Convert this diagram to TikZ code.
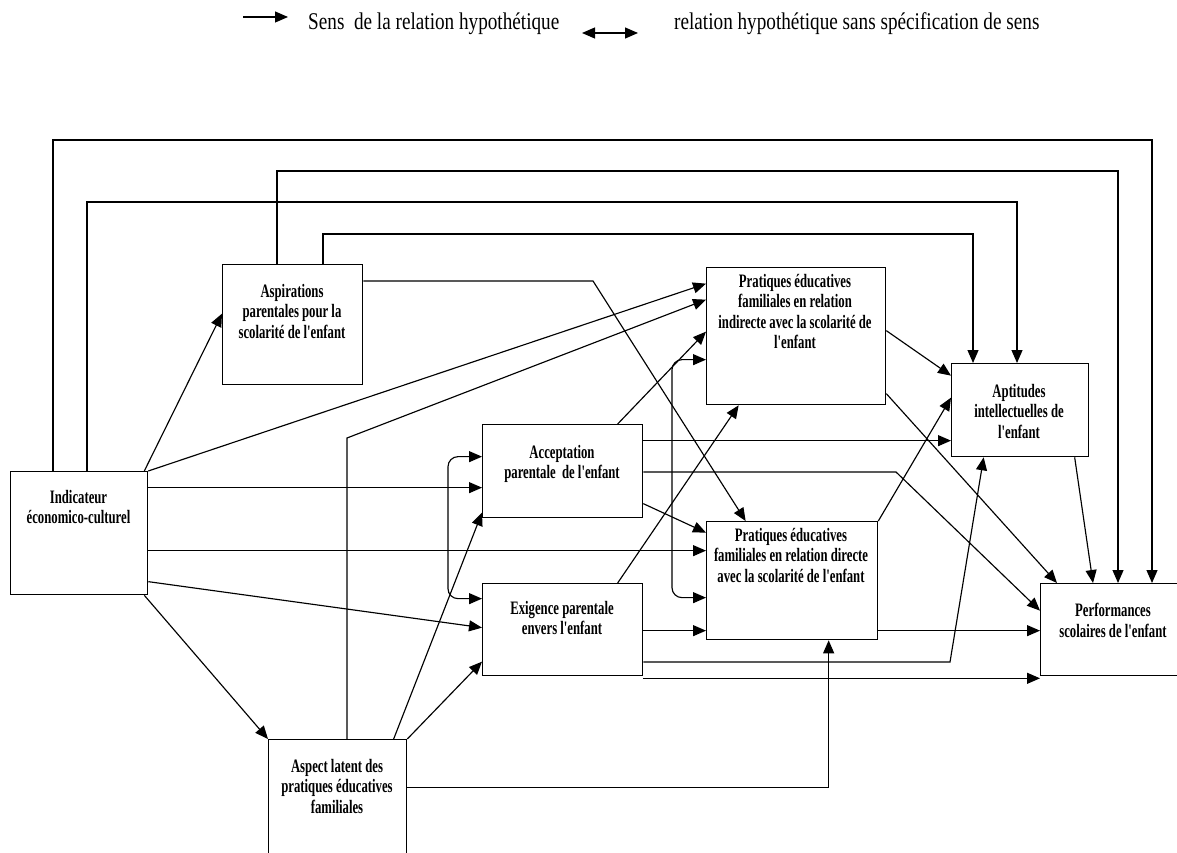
\documentclass[tikz,border=0pt]{standalone}
\usepackage{fontspec}
\setmainfont{Liberation Serif}
\newfontfamily\lblfont{Liberation Serif}[FakeStretch=0.67]
\newfontfamily\legfont{Liberation Serif}[FakeStretch=0.80]
\usetikzlibrary{arrows.meta}
\begin{document}
\begin{tikzpicture}[x=1pt,y=-1pt,
  box/.style={draw, rectangle, line width=1.3pt, inner sep=0pt, anchor=north west},
  lbl/.style={font=\lblfont\bfseries\fontsize{19}{20.5}\selectfont, align=center, inner sep=0pt, anchor=north},
  legtxt/.style={font=\legfont\fontsize{24}{26}\selectfont, inner sep=0pt, anchor=base west},
  conn/.style={line width=1.15pt, -{Triangle[length=13pt,width=11pt]}},
  dbl/.style={line width=1.15pt, {Triangle[length=13pt,width=11pt]}-{Triangle[length=13pt,width=11pt]}, rounded corners=10pt}]
\useasboundingbox (0,0) rectangle (1177,853);
\begin{scope}
\clip (0,0) rectangle (1177,853);
% ---------- legend ----------
\coordinate (la1) at (243,17);
\coordinate (la2) at (288,17);
\draw[conn] (la1) -- (la2);
\node[legtxt] (L1) at (308,30) {Sens\ \ de la relation hypothétique};
\coordinate (lb1) at (582,33);
\coordinate (lb2) at (638,33);
\draw[dbl] (lb1) -- (lb2);
\node[legtxt] (L2) at (674,30) {relation hypothétique sans spécification de sens};
% ---------- boxes ----------
\node[box, minimum width=137pt, minimum height=123pt] (I) at (10,471) {};
\node[box, minimum width=140pt, minimum height=120pt] (Asp) at (222,264) {};
\node[box, minimum width=179pt, minimum height=137pt] (PI) at (706,267) {};
\node[box, minimum width=137pt, minimum height=93pt] (Apt) at (951,363) {};
\node[box, minimum width=160pt, minimum height=93pt] (AC) at (482,424) {};
\node[box, minimum width=160pt, minimum height=92pt] (EX) at (482,583) {};
\node[box, minimum width=171pt, minimum height=118pt] (PD) at (706,521) {};
\node[box, minimum width=150pt, minimum height=92pt] (Perf) at (1040,583) {};
\node[box, minimum width=138pt, minimum height=131pt] (AL) at (268,739) {};
% ---------- labels ----------
\node[lbl] (It) at (78.5,490) {Indicateur\\économico-culturel};
\node[lbl] (Aspt) at (292,284) {Aspirations\\parentales pour la\\scolarité de l'enfant};
\node[lbl] (PIt) at (795,274) {Pratiques éducatives\\familiales en relation\\indirecte avec la scolarité de\\l'enfant};
\node[lbl] (Aptt) at (1019,384) {Aptitudes\\intellectuelles de\\l'enfant};
\node[lbl] (ACt) at (562,445) {Acceptation\\parentale\ \ de l'enfant};
\node[lbl] (EXt) at (562,601) {Exigence parentale\\envers l'enfant};
\node[lbl] (PDt) at (791,528) {Pratiques éducatives\\familiales en relation directe\\avec la scolarité de l'enfant};
\node[lbl] (Perft) at (1113,603) {Performances\\scolaires de l'enfant};
\node[lbl] (ALt) at (337,759) {Aspect latent des\\pratiques éducatives\\familiales};
% ---------- long top connectors ----------
\coordinate (b1) at (600,140);
\coordinate (b2) at (600,171);
\coordinate (b3) at (600,202);
\coordinate (b4) at (600,234);
\draw[conn] ([xshift=43pt]I.north west) |- (b1) -| ([xshift=112pt]Perf.north west);
\draw[conn] ([xshift=55pt]Asp.north west) |- (b2) -| ([xshift=78pt]Perf.north west);
\draw[conn] ([xshift=77pt]I.north west) |- (b3) -| ([xshift=66pt]Apt.north west);
\draw[conn] ([xshift=101pt]Asp.north west) |- (b4) -| ([xshift=22pt]Apt.north west);
% ---------- from Indicateur ----------
\draw[conn] ([xshift=-4pt]I.north east) -- ([yshift=11pt]Asp.west);
\draw[conn] (I.north east) -- ([yshift=52.5pt]PI.west);
\draw[conn] ([yshift=45.5pt]I.east) -- ([yshift=-16.5pt]AC.west);
\draw[conn] ([yshift=-17.5pt]I.east) -- ([yshift=30pt]PD.west);
\draw[conn] ([yshift=-48.5pt]I.east) -- ([yshift=2pt]EX.west);
\draw[conn] ([xshift=-4pt]I.south east) -- (AL.north west);
% ---------- from Aspirations ----------
\coordinate (b8) at (593,281);
\draw[conn] (Asp.east |- b8) -- (b8) -- ([xshift=-46.5pt]PD.north);
% ---------- from Aspect latent ----------
\coordinate (b7) at (347,438);
\draw[conn] (AL.north -| b7) -- (b7) -- ([yshift=36.5pt]PI.west);
\draw[conn] ([xshift=56pt]AL.north) -- ([yshift=-41.5pt]AC.west);
\draw[conn] (AL.north east) -- ([yshift=-32pt]EX.west);
\draw[conn] ([yshift=17.5pt]AL.east) -| ([xshift=36.5pt]PD.south);
% ---------- double arrows ----------
\coordinate (c16) at (448,530);
\draw[dbl] ([yshift=14.5pt]AC.west) -| (c16) |- ([yshift=31pt]EX.west);
\coordinate (c17) at (672,480);
\draw[dbl] ([yshift=-23.5pt]PI.west) -| (c17) |- ([yshift=-17pt]PD.west);
% ---------- from Acceptation ----------
\draw[conn] ([xshift=55pt]AC.north) -- ([yshift=4.5pt]PI.west);
\draw[conn] ([yshift=30.5pt]AC.east) -- ([yshift=-30.5pt]Apt.west);
\coordinate (b20) at (896,472);
\draw[conn] (AC.east |- b20) -- (b20) -- ([yshift=19pt]Perf.west);
\draw[conn] ([yshift=-32.5pt]AC.east) -- ([yshift=48pt]PD.west);
% ---------- from Exigence ----------
\draw[conn] ([xshift=55pt]EX.north) -- ([xshift=-57.5pt]PI.south);
\draw[conn] ([yshift=-1pt]EX.east) -- ([yshift=-50pt]PD.west);
\coordinate (b24) at (950,662);
\draw[conn] (EX.east |- b24) -- (b24) -- ([xshift=-36.5pt]Apt.south);
\draw[conn] ([yshift=-2pt]EX.south east) -- ([yshift=-2pt]Perf.south west);
% ---------- from PI, PD, Aptitudes ----------
\draw[conn] ([yshift=5.5pt]PI.east) -- ([yshift=34.5pt]Apt.west);
\draw[conn] ([yshift=-57.5pt]PI.east) -- ([xshift=17pt]Perf.north west);
\draw[conn] (PD.north east) -- ([yshift=12.5pt]Apt.west);
\draw[conn] ([yshift=-50pt]PD.east) -- ([yshift=-1pt]Perf.west);
\draw[conn] ([xshift=54.5pt]Apt.south) -- ([xshift=53pt]Perf.north west);
\end{scope}
\end{tikzpicture}
\end{document}
